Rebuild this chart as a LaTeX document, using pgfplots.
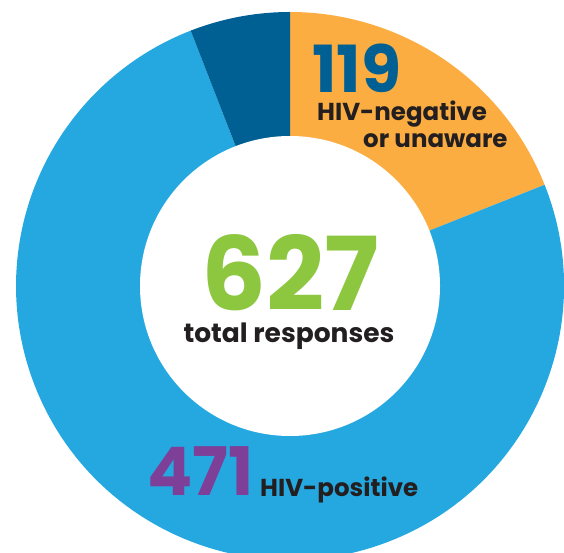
\documentclass[border=0pt]{standalone}
\usepackage{fontspec}
\setmainfont{Poppins}
\usepackage{pgfplots}
\usepackage{pgfplotstable}
\pgfplotsset{compat=1.18}

\definecolor{negOrange}{HTML}{FBAD42}
\definecolor{posBlue}{HTML}{25A8E0}
\definecolor{otherBlue}{HTML}{005F93}
\definecolor{totalGreen}{HTML}{8DC63F}
\definecolor{posPurple}{HTML}{7D3F98}
\definecolor{labelInk}{HTML}{231F20}

% survey responses by HIV status
\pgfplotstableread{
group     value
negative  119
positive  471
other     37
}\responses

\pgfplotstablegetelem{0}{value}\of\responses \let\vNeg\pgfplotsretval
\pgfplotstablegetelem{1}{value}\of\responses \let\vPos\pgfplotsretval
\pgfplotstablegetelem{2}{value}\of\responses \let\vOther\pgfplotsretval
\pgfmathsetmacro\vTotal{\vNeg+\vPos+\vOther}
% segments run clockwise from twelve o'clock
\pgfmathsetmacro\aStart{90}
\pgfmathsetmacro\aNeg{\aStart-360*(\vNeg/\vTotal)}
\pgfmathsetmacro\aPos{\aNeg-360*(\vPos/\vTotal)}
\pgfmathsetmacro\aEnd{\aStart-360}

\def\cx{290}\def\cy{266}
\def\rOut{274}\def\rIn{150}

\tikzset{
  bignum/.style={anchor=base west, inner sep=0, text depth=0pt, text height=0.72em},
  label/.style={anchor=base west, inner sep=0, text=labelInk, text depth=0.2em, text height=0.72em,
    font=\bfseries\fontsize{24.5}{25}\selectfont},
}

\begin{document}
\begin{tikzpicture}
\begin{axis}[
  name=ax,
  scale only axis, width=564pt, height=552pt,
  xmin=0, xmax=564, ymin=0, ymax=552,
  hide axis, clip=true,
]
\fill[negOrange] (axis cs:\cx,\cy) -- ++(\aStart:\rOut pt)
  arc[start angle=\aStart, end angle=\aNeg, radius=\rOut pt] -- cycle;
\fill[posBlue] (axis cs:\cx,\cy) -- ++(\aNeg:\rOut pt)
  arc[start angle=\aNeg, end angle=\aPos, radius=\rOut pt] -- cycle;
\fill[otherBlue] (axis cs:\cx,\cy) -- ++(\aPos:\rOut pt)
  arc[start angle=\aPos, end angle=\aEnd, radius=\rOut pt] -- cycle;
\fill[white] (axis cs:\cx,\cy) circle[radius=\rIn pt];

\node[bignum, text=otherBlue, font=\bfseries\fontsize{65}{65}\selectfont]
  at (axis cs:312,459) {119};
\node[label] at (axis cs:317,431) {HIV-negative};
\node[label] at (axis cs:363,404) {or unaware};

\node[bignum, anchor=base, text=totalGreen, font=\bfseries\fontsize{102}{102}\selectfont]
  at (axis cs:290,242) {627};
\node[label, anchor=base, font=\bfseries\fontsize{26.5}{27}\selectfont]
  at (axis cs:289,210) {total responses};

\node[bignum, text=posPurple, font=\bfseries\fontsize{67}{67}\selectfont]
  at (axis cs:147,57) {471};
\node[label] at (axis cs:260,56) {HIV-positive};
\end{axis}
\pgfresetboundingbox
\path (ax.south west) rectangle (ax.north east);
\end{tikzpicture}
\end{document}
